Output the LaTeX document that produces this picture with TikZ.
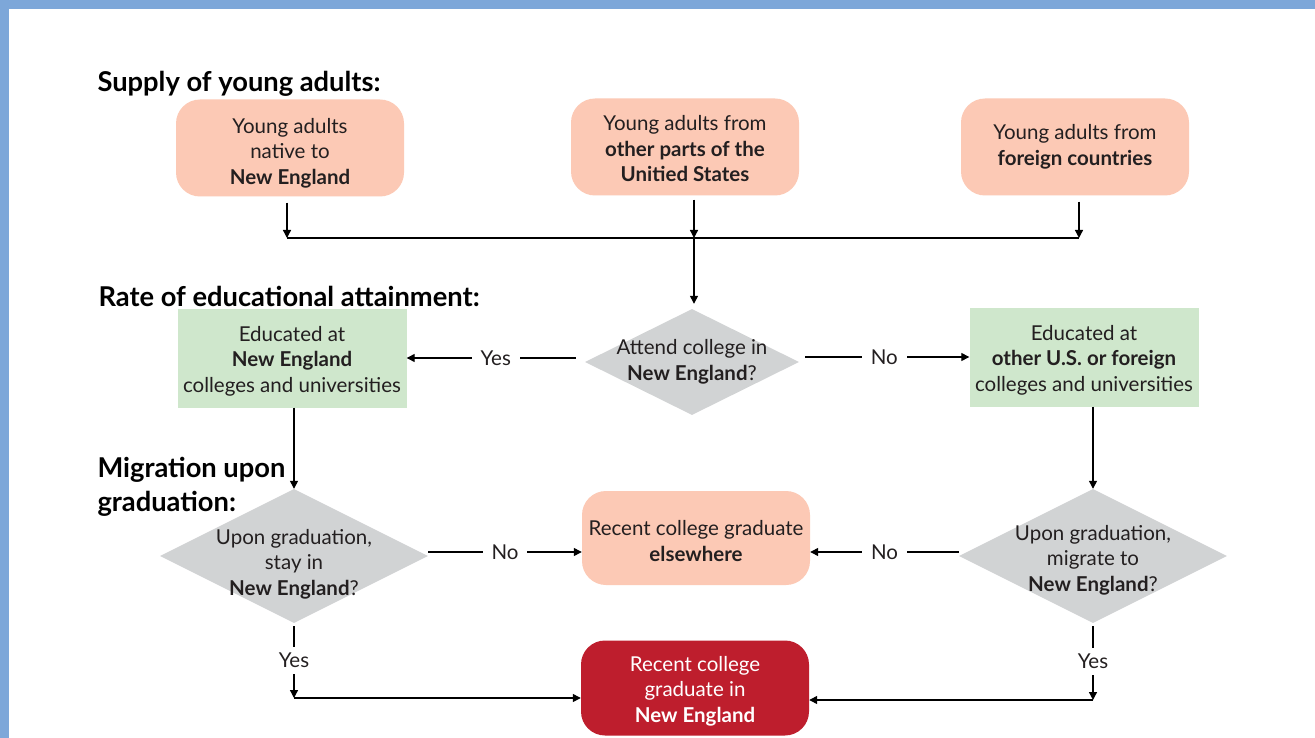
\documentclass[tikz,border=0pt]{standalone}
\usepackage{fontspec}
\setmainfont{Lato}
\usetikzlibrary{shapes.geometric,arrows.meta}
\definecolor{frame}{HTML}{7DA7D9}
\definecolor{salmon}{HTML}{FCC9B5}
\definecolor{mint}{HTML}{CFE7CC}
\definecolor{greyd}{HTML}{D1D3D4}
\definecolor{crimson}{HTML}{BE1E2D}
\definecolor{ink}{HTML}{231F20}
\newcommand{\topstrut}[1]{\rule{0pt}{#1pt}}
\tikzset{
  base/.style={inner sep=0pt, align=center, text=ink},
  pbox/.style={base, rounded corners=24pt, fill=salmon, minimum width=228pt, minimum height=97pt},
  gbox/.style={base, fill=mint, minimum width=229pt, minimum height=99pt},
  rbox/.style={base, rounded corners=24pt, fill=crimson, text=white, minimum width=228pt, minimum height=95pt},
  dia/.style={diamond, inner sep=0pt, fill=greyd},
  dtext/.style={base},
  head/.style={anchor=west, align=left, text=black, font=\bfseries\fontsize{27.3}{34}\selectfont},
  arr/.style={line width=1.3pt, -{Triangle[length=8pt,width=8pt]}},
  ln/.style={line width=1.3pt},
  lab/.style={fill=white, inner xsep=9pt, inner ysep=3pt, text=ink},
}
\begin{document}
\begin{tikzpicture}[x=1pt,y=-1pt, font=\fontsize{20.5}{25.5}\selectfont]
\useasboundingbox (0,0) rectangle (1315,738);
\fill[white] (0,0) rectangle (1315,738);
\fill[frame] (0,0) rectangle (1315,9);
\fill[frame] (0,0) rectangle (9,738);

% headers
\node[head] (h1) at (94,84) {Supply of young adults:};
\node[head] (h2) at (95,296) {Rate of educational attainment:};
\node[head] (h3) at (94,487) {Migration upon\\graduation:};

% supply boxes
\node[pbox] (b1) at (290,148) {\topstrut{25}Young adults\\native to\\\textbf{New England}};
\node[pbox] (b2) at (685,147) {\topstrut{19}Young adults from\\\textbf{other parts of the}\\\textbf{Unitied States}};
\node[pbox] (b3) at (1075,147) {Young adults from\\\textbf{foreign countries}};

% junction line
\coordinate (j1) at (287,238);
\coordinate (j2) at (694,238);
\coordinate (j3) at (1079,238);
\draw[ln] (j1) -- (j3);
\draw[arr, shorten <=6pt] (b1.south -| j1) -- (j1);
\draw[arr, shorten <=4pt] (b2.south -| j2) -- (j2);
\draw[arr, shorten <=6pt] (b3.south -| j3) -- (j3);

% attainment row
\node[dia, minimum width=214pt, minimum height=106pt,
  label={[dtext]center:Attend college in\\\textbf{New England}?}] (d1) at (692,362) {};
\draw[arr, shorten >=5pt] (j2) -- (j2 |- d1.north);
\node[gbox] (g1) at (292,358) {\topstrut{21}Educated at\\\textbf{New England}\\colleges and universities};
\node[gbox] (g2) at (1084,357) {\topstrut{21}Educated at\\\textbf{other U.S. or foreign}\\colleges and universities};
\draw[arr, shorten <=9pt] (d1.west |- g1.east) -- node[lab]{Yes} (g1.east);
\draw[arr, shorten <=6pt] (d1.east |- g2.west) -- node[lab]{No} (g2.west);

% migration row
\node[dia, minimum width=268pt, minimum height=134pt,
  label={[dtext, yshift=-8pt]center:Upon graduation,\\stay in\\\textbf{New England}?}] (dL) at (294,556) {};
\node[dia, minimum width=268pt, minimum height=134pt,
  label={[dtext, yshift=-4pt]center:Upon graduation,\\migrate to\\\textbf{New England}?}] (dR) at (1093,556) {};
\draw[arr] (g1.south -| dL.north) -- (dL.north);
\draw[arr] (g2.south -| dR.north) -- (dR.north);

\node[pbox, minimum height=94pt] (e) at (696,538) {\topstrut{21}Recent college graduate\\\textbf{elsewhere}};
\node[rbox] (r) at (695,688) {\topstrut{21}Recent college\\graduate in\\\textbf{New England}};

\draw[arr] ([yshift=4pt]dL.east) -- node[lab]{No} ([yshift=4pt]dL.east -| e.west);
\draw[arr] ([yshift=4pt]dR.west) -- node[lab]{No} ([yshift=4pt]dR.west -| e.east);

\coordinate (cL) at (294,698);
\coordinate (cR) at (1093,700);
\draw[arr, shorten <=3pt] (dL.south) -- node[lab, inner xsep=2pt, inner ysep=6pt]{Yes} (cL);
\draw[arr, shorten <=3pt] (dR.south) -- node[lab, inner xsep=2pt, inner ysep=6pt]{Yes} (cR);
\draw[arr] (cL) -- (cL -| r.west);
\draw[arr] (cR) -- (cR -| r.east);
\end{tikzpicture}
\end{document}
